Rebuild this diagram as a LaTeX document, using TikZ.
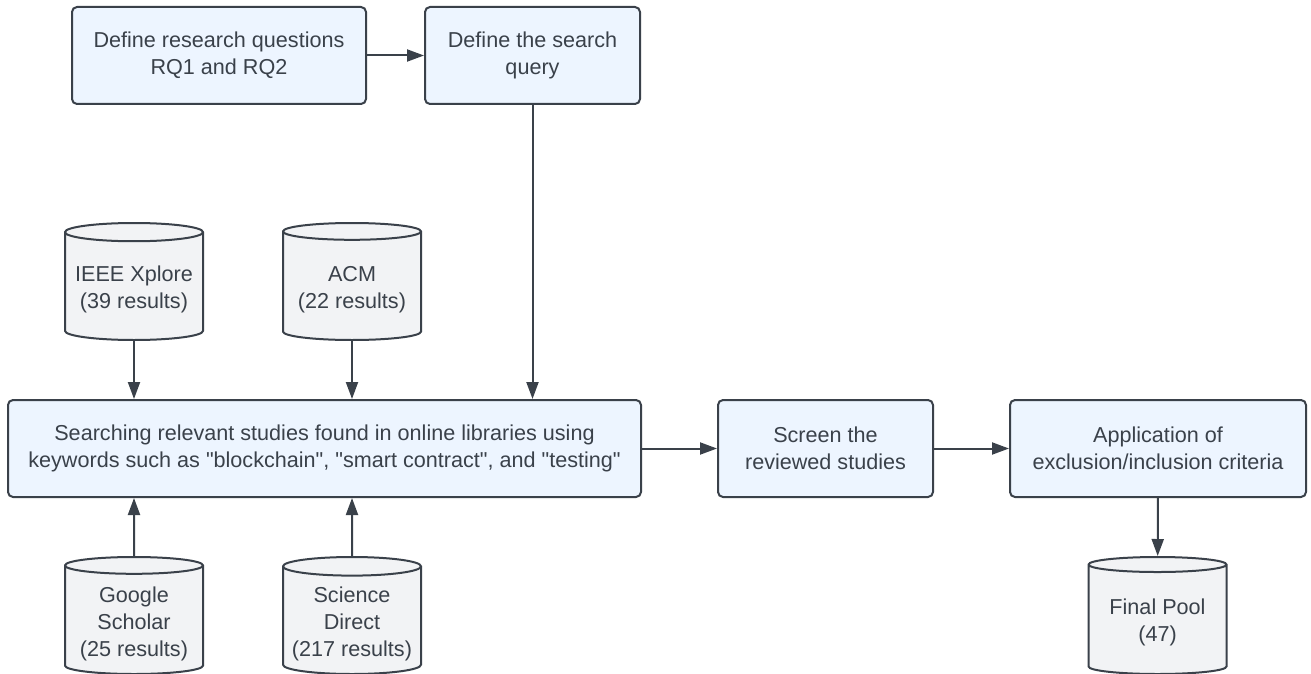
\documentclass[tikz,border=0pt]{standalone}
\usepackage{fontspec}
\setmainfont{Liberation Sans}
\usetikzlibrary{shapes.geometric,arrows.meta}
\definecolor{boxfill}{HTML}{EDF5FF}
\definecolor{dbfill}{HTML}{F2F3F5}
\definecolor{linegray}{HTML}{3A414A}
\begin{document}
\begin{tikzpicture}[x=0.5pt,y=-0.5pt,
  box/.style={draw=linegray, fill=boxfill, rounded corners=2.5pt, line width=1pt,
    align=center, minimum height=48.5pt, text=linegray, font=\fontsize{10.8}{13.5}\selectfont},
  db/.style={cylinder, shape border rotate=90, aspect=0.15, draw=linegray, fill=dbfill,
    line width=1pt, align=center, minimum width=69pt, minimum height=58.5pt, inner sep=1pt,
    text depth=-12pt, anchor=shape center, text=linegray,
    font=\fontsize{10.8}{13.5}\selectfont},
  arr/.style={-{Triangle[length=8.5pt,width=6pt]}, line width=1pt, draw=linegray}]
  \useasboundingbox (0,0) rectangle (1311,674);
  \node[box, minimum width=147pt] (rq) at (219,55.5) {Define research questions\\RQ1 and RQ2};
  \node[box, minimum width=107.5pt] (query) at (532.5,55.5) {Define the search\\query};
  \node[db] (ieee) at (134,281.5) {IEEE Xplore\\(39 results)};
  \node[db] (acm) at (352,281.5) {ACM\\(22 results)};
  \node[box, minimum width=316.5pt] (search) at (324.5,448.5) {Searching relevant studies found in online libraries using\\keywords such as \textquotedbl blockchain\textquotedbl, \textquotedbl smart contract\textquotedbl, and \textquotedbl testing\textquotedbl};
  \node[box, minimum width=107.5pt] (screen) at (825.5,448.5) {Screen the\\reviewed studies};
  \node[box, minimum width=148pt] (apply) at (1158,448.5) {Application of\\exclusion/inclusion criteria};
  \node[db] (scholar) at (134,615.5) {Google\\Scholar\\(25 results)};
  \node[db] (science) at (352,615.5) {Science\\Direct\\(217 results)};
  \node[db] (pool) at (1157.5,615.5) {Final Pool\\(47)};
  \draw[arr] (rq) -- (query);
  \draw[arr] (query) -- (query |- search.north);
  \draw[arr] (ieee) -- (ieee |- search.north);
  \draw[arr] (acm) -- (acm |- search.north);
  \draw[arr] (scholar) -- (scholar |- search.south);
  \draw[arr] (science) -- (science |- search.south);
  \draw[arr] (search) -- (screen);
  \draw[arr] (screen) -- (apply);
  \draw[arr] (apply) -- (pool);
\end{tikzpicture}
\end{document}
